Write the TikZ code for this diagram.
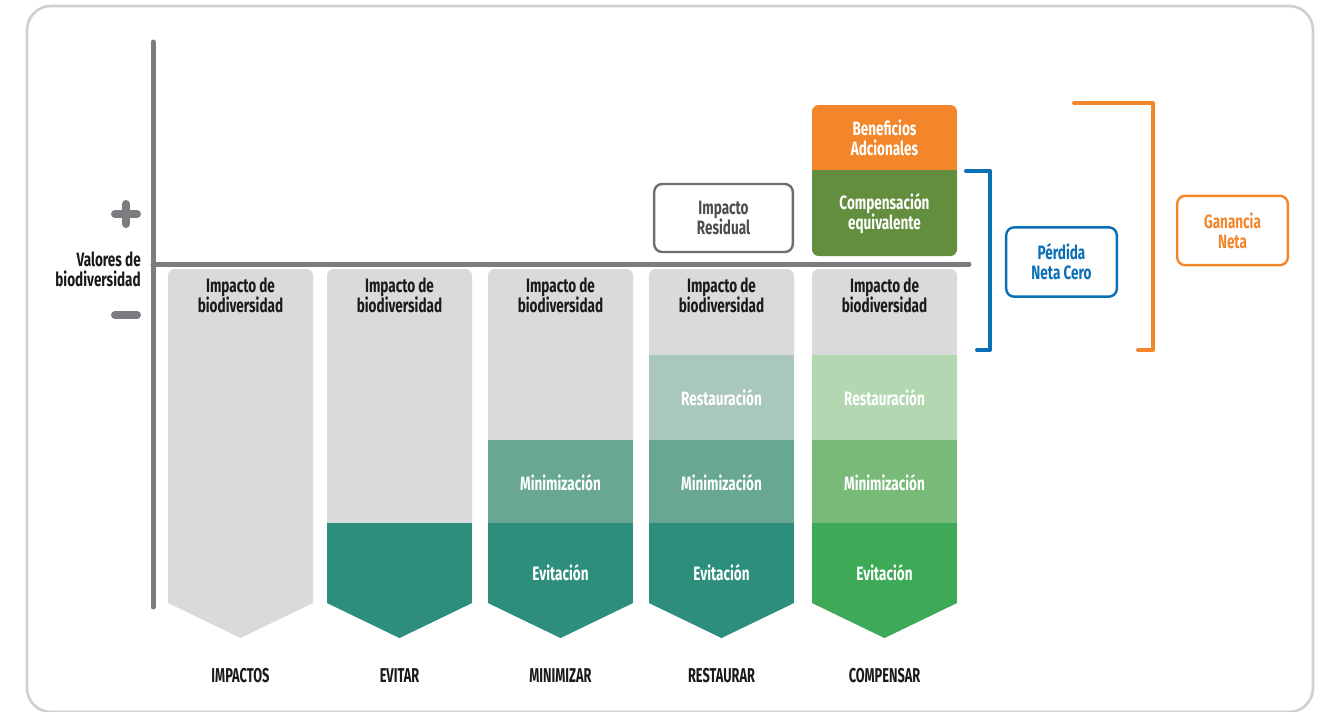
\documentclass[tikz,border=0pt]{standalone}
\usepackage{fontspec}
\setmainfont{Fira Sans}[FakeStretch=0.7]
\newfontfamily\capsfont{Fira Sans}[FakeStretch=0.64]
\definecolor{axisgray}{HTML}{7B7C7F}
\definecolor{boxgray}{HTML}{D9DADC}
\definecolor{framegray}{HTML}{D0D0D0}
\definecolor{tealE}{HTML}{2D8E7C}
\definecolor{tealM}{HTML}{67A794}
\definecolor{tealR}{HTML}{A9C7BA}
\definecolor{greenE}{HTML}{3EAA57}
\definecolor{greenM}{HTML}{78BB78}
\definecolor{greenR}{HTML}{B3D7B1}
\definecolor{orangeB}{HTML}{F3862A}
\definecolor{oliveC}{HTML}{638E3E}
\definecolor{blueP}{HTML}{0B6FB8}
\definecolor{residgray}{HTML}{6D6E71}
\definecolor{txt}{HTML}{1A1A1A}
\tikzset{
  lbl/.style={font=\bfseries\fontsize{14.5}{15}\selectfont, align=center, inner sep=0pt},
  darklbl/.style={lbl, text=txt},
  whitelbl/.style={lbl, text=white},
  capslbl/.style={font=\capsfont\bfseries\fontsize{15}{15}\selectfont, text=txt, inner sep=0pt},
  axisline/.style={draw=axisgray, line width=3.75pt, line cap=round},
  signline/.style={draw=axisgray, line width=6pt, line cap=round},
  bracket/.style={line width=3pt, line cap=round, line join=round},
  tagbox/.style={lbl, draw, line width=1.8pt, rounded corners=6pt, minimum width=83pt, minimum height=52pt}
}
\newcommand{\chevpath}[1]{[rounded corners=5pt] (#1,603) -- (#1,269) -- (#1+145,269) [sharp corners] -- (#1+145,603) -- (#1+72.5,638) -- cycle}
\begin{document}
\begin{tikzpicture}[x=0.75pt, y=-0.75pt]
\useasboundingbox (0,0) rectangle (1332,711);
% frame
\draw[framegray, line width=2pt, rounded corners=18pt] (27,6) rectangle (1313,712);

% columns
\foreach \L in {168,327,488,649,812} {
  \fill[boxgray] \chevpath{\L};
}
% col2
\begin{scope}
  \clip \chevpath{327};
  \fill[tealE] (327,523) rectangle (472,640);
\end{scope}
% col3
\begin{scope}
  \clip \chevpath{488};
  \fill[tealM] (488,440) rectangle (633,523);
  \fill[tealE] (488,523) rectangle (633,640);
\end{scope}
% col4
\begin{scope}
  \clip \chevpath{649};
  \fill[tealR] (649,355) rectangle (794,440);
  \fill[tealM] (649,440) rectangle (794,523);
  \fill[tealE] (649,523) rectangle (794,640);
\end{scope}
% col5
\begin{scope}
  \clip \chevpath{812};
  \fill[greenR] (812,355) rectangle (957,440);
  \fill[greenM] (812,440) rectangle (957,523);
  \fill[greenE] (812,523) rectangle (957,640);
\end{scope}

% top boxes of col5
\fill[orangeB, rounded corners=5pt] (812,170) -- (812,105) -- (957,105) [sharp corners] -- (957,170) -- cycle;
\fill[oliveC, rounded corners=5pt] (812,170) -- (812,256) -- (957,256) [sharp corners] -- (957,170) -- cycle;
\node[whitelbl] (benef) at (884.5,138) {Beneficios\\Adcionales};
\node[whitelbl] (compeq) at (884.5,214) {Compensación\\equivalente};

% axes
\draw[axisline] (153,42) -- (153,607);
\draw[axisline] (153,264) -- (969,264);
\draw[signline] (115,214) -- (137,214);
\draw[signline] (126,204) -- (126,224);
\draw[signline] (115,315) -- (137,315);
\node[darklbl, align=right, anchor=east] (valores) at (141,269) {Valores de\\biodiversidad};

% column texts
\foreach \c/\n in {240.5/a,399.5/b,560.5/c,721.5/d,884.5/e} {
  \node[darklbl] (imp\n) at (\c,295) {Impacto de\\biodiversidad};
}
\node[whitelbl] (restd) at (721.5,398) {Restauración};
\node[whitelbl] (reste) at (884.5,398) {Restauración};
\node[whitelbl] (minc) at (560.5,483) {Minimización};
\node[whitelbl] (mind) at (721.5,483) {Minimización};
\node[whitelbl] (mine) at (884.5,483) {Minimización};
\node[whitelbl] (evic) at (560.5,573) {Evitación};
\node[whitelbl] (evid) at (721.5,573) {Evitación};
\node[whitelbl] (evie) at (884.5,573) {Evitación};

% bottom labels
\node[capslbl] (l1) at (240.5,676) {IMPACTOS};
\node[capslbl] (l2) at (399.5,676) {EVITAR};
\node[capslbl] (l3) at (560.5,676) {MINIMIZAR};
\node[capslbl] (l4) at (721.5,676) {RESTAURAR};
\node[capslbl] (l5) at (884.5,676) {COMPENSAR};

% residual
\node[tagbox, draw=residgray, text=residgray!70!black, minimum width=104pt, minimum height=51pt] (resid) at (723.5,218) {Impacto\\Residual};

% brackets
\draw[blueP, bracket] (966,171) -- (990,171) -- (990,350) -- (977,350);
\draw[orangeB, bracket] (1074,103) -- (1153,103) -- (1153,350) -- (1138,350);
\node[tagbox, draw=blueP, text=blueP] (perdida) at (1061.5,262) {Pérdida\\Neta Cero};
\node[tagbox, draw=orangeB, text=orangeB] (ganancia) at (1232.5,230.5) {Ganancia\\Neta};
\end{tikzpicture}
\end{document}
